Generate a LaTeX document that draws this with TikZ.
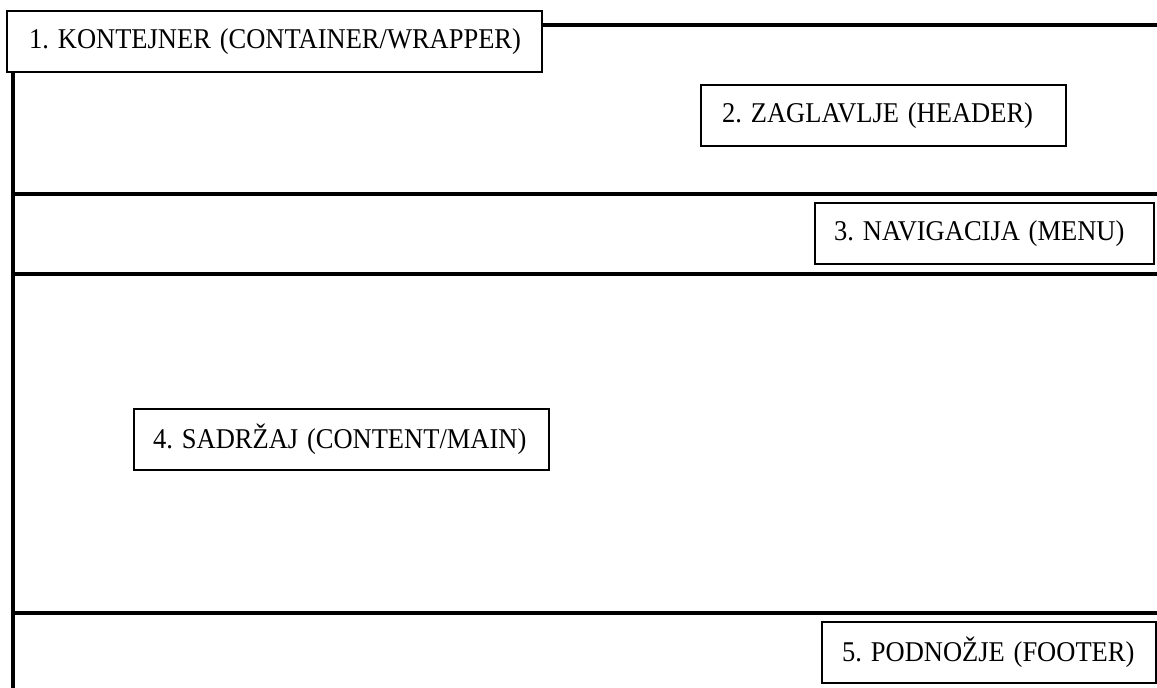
\documentclass[tikz,border=0pt]{standalone}
\usepackage{graphicx}
\usepackage{fontspec}
\setmainfont{Liberation Serif}
\newcommand{\tallt}[1]{\mbox{\scalebox{1}[1.08]{#1}}}
\begin{document}
\frenchspacing
\begin{tikzpicture}[x=1pt,y=-1pt,
  lbl/.style={draw, line width=2.4pt, fill=white, anchor=north west, inner ysep=0pt, align=left,
    minimum height=61pt, font=\fontsize{26.5}{30}\selectfont\frenchspacing},
  rule/.style={line width=3.1pt}]
\useasboundingbox (0,0) rectangle (1157,688);
% frame lines
\coordinate (tr) at (1159,25);
\coordinate (lb) at (13,690);
\coordinate (l1) at (13,194); \coordinate (r1) at (1159,194);
\coordinate (l2) at (13,274); \coordinate (r2) at (1159,274);
\coordinate (l3) at (13,613); \coordinate (r3) at (1159,613);
\draw[rule] (l1) -- (r1);
\draw[rule] (l2) -- (r2);
\draw[rule] (l3) -- (r3);
% boxes
\node[lbl, inner xsep=22pt, text width=491pt] (kont) at (6,9.5) {\tallt{1. KONTEJNER (CONTAINER/WRAPPER)}};
\draw[rule] (kont.east |- tr) -- (tr);
\draw[rule] (kont.south -| lb) -- (lb);
\node[lbl, inner xsep=21pt, text width=323pt] (zag) at (700,84) {\tallt{2. ZAGLAVLJE (HEADER)}};
\node[lbl, inner xsep=19pt, text width=301pt] (nav) at (814,202) {\tallt{3. NAVIGACIJA (MENU)}};
\node[lbl, inner xsep=19pt, text width=377pt] (sad) at (133,408) {\tallt{4. SADRŽAJ (CONTENT/MAIN)}};
\node[lbl, inner xsep=20pt, text width=294pt] (pod) at (821,621) {\tallt{5. PODNOŽJE (FOOTER)}};
\end{tikzpicture}
\end{document}
